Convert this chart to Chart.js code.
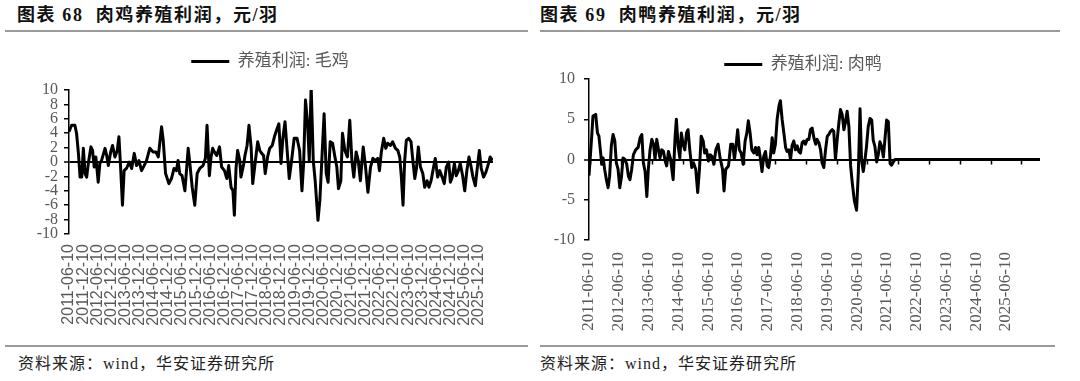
<!DOCTYPE html>
<html><head><meta charset="utf-8">
<script src="https://cdn.jsdelivr.net/npm/chart.js@4/dist/chart.umd.min.js"></script>
<style>
html,body{margin:0;padding:0;background:#fff;}
body{width:1080px;height:381px;position:relative;overflow:hidden;font-family:"Liberation Serif","Noto Sans CJK SC",serif;}
.title{position:absolute;top:5px;font-size:18px;font-weight:bold;color:#111;white-space:pre;letter-spacing:1.6px;line-height:20px;}
.rule{position:absolute;height:2px;background:#9a9a9a;}
.src{position:absolute;top:354px;font-size:16px;color:#222;white-space:pre;letter-spacing:1px;line-height:20px;}
canvas{position:absolute;top:40px;}
</style></head>
<body>
<div class="title" style="left:17px">图表 68  肉鸡养殖利润，元/羽</div>
<div class="title" style="left:540px">图表 69  肉鸭养殖利润，元/羽</div>
<div class="rule" style="left:5px;width:523px;top:30px"></div>
<div class="rule" style="left:540px;width:520px;top:30px"></div>
<div class="rule" style="left:5px;width:523px;top:345px"></div>
<div class="rule" style="left:540px;width:515px;top:345px"></div>
<div class="src" style="left:18px">资料来源：wind，华安证券研究所</div>
<div class="src" style="left:540px">资料来源：wind，华安证券研究所</div>
<canvas id="c1" width="540" height="300" style="left:0px"></canvas>
<canvas id="c2" width="540" height="300" style="left:540px"></canvas>
<script>
// ---- Chart 68: broiler chicken (毛鸡) profit, months since 2011-06-10 ----
const seriesNameL = '养殖利润: 毛鸡';
const monthsL = [0,1.1,2.5,3.2,4.0,4.7,5.4,6.1,6.8,7.5,8.2,9.3,10.0,10.7,11.4,12.4,13.1,13.8,15.3,16.0,16.7,17.7,18.5,19.5,20.5,21.2,21.9,22.7,23.4,24.4,25.6,26.6,27.7,28.7,29.7,30.8,31.9,32.9,34.3,35.7,36.9,37.9,39.3,40.0,41.0,42.4,43.5,44.6,45.6,46.3,47.0,48.0,49.2,50.6,51.3,52.3,53.4,54.4,55.5,56.9,57.9,58.6,59.6,60.3,61.0,61.7,62.7,63.9,64.8,66.0,67.0,67.8,68.8,69.6,70.2,70.9,71.6,72.5,73.0,74.2,74.7,75.6,76.4,77.3,78.0,79.0,80.1,81.0,81.8,82.6,83.3,84.3,85.2,86.3,87.2,88.1,89.1,90.0,90.8,91.7,92.5,93.5,94.5,95.6,96.8,97.9,98.9,99.6,100.4,101.3,102.0,102.8,103.7,104.5,105.7,106.5,107.5,108.3,109.2,110.0,110.9,111.9,112.9,113.7,114.4,115.4,116.1,117.1,118.2,119.2,120.1,120.9,121.9,122.8,123.7,124.9,125.9,126.9,128.0,129.0,130.1,131.1,131.8,132.6,133.6,134.5,135.3,136.5,137.4,138.6,139.6,140.4,141.1,141.8,142.5,143.2,144.2,145.2,146.1,146.8,147.5,148.3,149.2,150.2,151.0,152.0,152.8,153.7,154.5,155.5,156.5,157.4,158.4,159.3,160.2,161.2,161.9,162.7,163.6,164.4,165.3,166.1,167.1,168.0,168.9,169.8,170.6,171.5,172.5,173.2,174.2,175.0,176.0,177.0,178.1,178.8,179.8];
const valuesL = [4.2,5.1,5.1,4.0,1.2,-2.1,-2.1,1.9,-1.6,-2.1,-0.2,2.1,1.6,-0.7,0.7,-2.8,-0.2,0.2,1.9,0.9,-0.5,1.4,2.3,0.7,1.6,3.5,-0.7,-6.0,-1.2,-0.9,0,-0.9,1.2,-0.5,0.2,-1.2,-0.5,0.2,1.9,1.4,1.4,0.7,4.9,3.0,-1.6,-3.0,-2.3,-0.9,-1.2,0.2,-1.6,-1.9,-4.0,1.9,-0.2,-3.5,-6.0,-1.6,-0.9,-0.5,0.5,5.1,-1.9,0.7,1.9,1.4,0.9,2.1,-0.7,-1.2,-2.3,-0.5,-3.5,-4.0,-7.4,-0.9,1.6,0.2,-2.1,-0.2,0.9,2.3,5.1,2.1,-3.0,-0.2,2.8,1.6,1.2,0.9,-1.6,0.7,1.9,2.3,3.5,4.4,5.3,-0.2,3.3,5.6,2.1,-2.3,0.2,3.3,3.3,1.6,-4.0,-0.2,8.6,5.3,0.2,10.5,0.2,-2.6,-8.1,-5.3,1.4,6.7,-1.6,-2.8,2.8,2.6,0.7,-0.7,-3.7,-2.6,4.0,1.6,0.7,5.8,0.2,-2.1,1.4,0.2,-2.6,2.1,-0.7,-4.2,-0.7,0.5,0.2,0.5,-1.2,1.4,3.3,1.9,2.6,2.3,2.8,1.9,1.6,0.7,-2.1,-6.0,0.2,3.0,3.3,2.8,-0.2,-2.3,-0.9,2.1,-0.7,-1.6,-3.5,-2.6,-3.5,-2.6,-1.2,0.5,-2.1,-1.2,-2.1,-3.0,-0.7,0,-2.8,-2.1,-0.2,-1.9,-1.2,-0.2,-1.9,-4.0,-1.2,0.7,-0.5,-2.1,-3.3,-1.2,1.6,-0.9,-2.1,-1.4,-0.2,0.7,0.2];
const tickMonthsL = [0,6,12,18,24,30,36,42,48,54,60,66,72,78,84,90,96,102,108,114,120,126,132,138,144,150,156,162,168,174];
const tickLabelsL = ['2011-06-10','2011-12-10','2012-06-10','2012-12-10','2013-06-10','2013-12-10','2014-06-10','2014-12-10','2015-06-10','2015-12-10','2016-06-10','2016-12-10','2017-06-10','2017-12-10','2018-06-10','2018-12-10','2019-06-10','2019-12-10','2020-06-10','2020-12-10','2021-06-10','2021-12-10','2022-06-10','2022-12-10','2023-06-10','2023-12-10','2024-06-10','2024-12-10','2025-06-10','2025-12-10'];

// ---- Chart 69: meat duck (肉鸭) profit ----
const seriesNameR = '养殖利润: 肉鸭';
const monthsR = [0,1.1,1.6,2.7,3.4,4.0,4.7,5.1,5.7,6.3,7.0,7.7,8.3,9.0,9.7,10.4,11.0,11.7,12.4,13.1,13.7,14.5,15.2,15.9,16.5,17.2,17.9,18.8,19.8,20.6,21.3,21.9,22.6,23.3,23.9,24.6,25.3,26.0,26.6,27.3,28.0,28.6,29.3,30.0,30.7,31.3,32.0,32.9,33.9,34.7,35.2,35.9,36.6,37.2,37.9,38.6,39.3,39.9,40.6,41.4,42.1,43.0,43.8,44.5,45.2,46.0,46.6,47.3,48.1,48.8,49.5,50.3,51.1,52.0,52.8,53.8,54.4,55.1,56.2,57.1,57.9,58.6,59.3,59.9,60.6,61.3,62.1,62.9,63.6,64.2,64.9,65.6,66.4,67.1,67.7,68.4,69.1,69.7,70.4,71.1,71.8,72.4,73.1,73.8,74.4,75.1,75.8,76.5,77.1,77.8,78.5,79.2,79.8,80.5,81.2,81.8,82.5,83.2,83.9,84.5,85.2,85.9,86.5,87.2,87.9,88.6,89.2,89.9,90.6,91.3,91.9,92.6,93.3,93.9,94.6,95.3,96.0,96.6,97.3,98.0,98.6,99.3,100.0,100.7,101.3,102.0,102.7,103.3,104.0,104.7,105.4,106.1,106.9,107.8,108.5,109.2,109.8,110.5,111.2,111.8,112.5,113.2,113.9,114.5,115.2,115.9,116.6,117.2,117.9,118.6,119.2,119.9,120.6,121.3,121.9,122.6,123.3,128,140,152,164,176,181.7];
const valuesR = [-2.0,2.9,5.4,5.6,3.3,2.9,0.8,-0.6,0.2,-1.2,-2.5,-3.5,-2.1,1.7,3.1,2.3,-0.4,-1.2,-3.5,-2.1,0.2,0,-0.6,-2.1,-2.5,-1.2,0.6,1.2,1.5,2.7,3.1,-0.4,-1.5,-4.6,-1.2,1.2,2.5,1.9,0,2.5,1.2,0.2,1.2,1.0,-0.2,-0.8,1.0,0,-2.5,2.9,5.0,1.7,0.2,3.3,1.9,1.2,3.3,3.7,1.2,-1.0,-0.4,-1.2,-4.1,-1.2,2.9,2.3,0.8,1.2,-0.2,0.6,0.4,-0.6,1.2,1.9,0.2,-1.2,-3.9,-1.2,-0.8,1.9,1.9,0,1.9,3.7,1.2,0.8,-0.6,2.3,3.3,4.8,3.3,1.2,0.8,1.5,0.6,1.5,0,-1.5,0.4,1.0,-0.8,-1.0,0.4,2.7,0.8,1.9,5.0,6.6,7.3,5.0,3.3,1.5,1.0,1.2,0,1.7,2.3,1.2,1.7,1.0,0.8,2.1,2.3,1.9,2.5,2.5,3.7,3.9,2.7,1.9,2.5,2.1,1.2,-0.4,-1.0,1.2,2.9,3.1,3.5,3.7,3.5,0,2.5,4.6,6.2,5.6,3.7,4.6,6.0,4.1,-0.8,-3.0,-5.1,-6.3,-1.7,6.3,-0.1,-1.5,0,1.6,4.1,5.1,4.9,2.4,1.6,-0.3,0.7,2.2,1.6,0.3,2.4,4.9,4.7,-0.5,-0.7,-0.3,0,0,0,0,0,0,0];
const tickMonthsR = [0,12,24,36,48,60,72,84,96,108,120,132,144,156,168];
const tickLabelsR = ['2011-06-10','2012-06-10','2013-06-10','2014-06-10','2015-06-10','2016-06-10','2017-06-10','2018-06-10','2019-06-10','2020-06-10','2021-06-10','2022-06-10','2023-06-10','2024-06-10','2025-06-10'];
const zeroMarksR = [0.6,13,25.4,37.8,50.2,62.6,75,87.4,99.8,112.2,124.6,137,149.4,161.8,174.2];

const GREY = '#595959';
const SERIF = '"Liberation Serif","Noto Sans CJK SC",serif';

function legendFix(h, right){
  return {id:'legendFix',
    beforeInit(chart){
      const lg = chart.legend; const f = lg.fit;
      lg.fit = function(){ f.call(this); this.height = h; };
    },
    afterLayout(chart){ chart.legend.left = 0; chart.legend.right = right; }
  };
}
function zeroMarks(marks){
  return {id:'zeroMarks', afterDatasetsDraw(chart){
    if(!marks) return;
    const xs = chart.scales.x, ys = chart.scales.y, c = chart.ctx;
    const y0 = ys.getPixelForValue(0);
    c.save(); c.strokeStyle='#000'; c.lineWidth=1.5; c.beginPath();
    marks.forEach(m=>{ const x = Math.round(xs.getPixelForValue(m))+0.5; c.moveTo(x,y0); c.lineTo(x,y0+5); });
    c.stroke(); c.restore();
  }};
}

function makeChart(id, cfg){
  const pts = cfg.months.map((m,i)=>({x:m, y:cfg.values[i]}));
  return new Chart(document.getElementById(id), {
    type:'line',
    data:{datasets:[{label:cfg.name, data:pts, borderColor:'#000', backgroundColor:'#000', borderWidth:3, pointRadius:0, tension:0, borderJoinStyle:'round'}]},
    options:{
      responsive:false, animation:false, devicePixelRatio:1,
      layout:{padding:{left:0,right:cfg.padRight,top:0,bottom:0}},
      plugins:{
        tooltip:{enabled:false},
        legend:{display:true, position:'top',
          labels:{boxWidth:38, boxHeight:3, padding:cfg.legPad, color:GREY, font:{family:SERIF, size:17},
            generateLabels(chart){ const it = Chart.defaults.plugins.legend.labels.generateLabels(chart); it.forEach(i=>{i.lineWidth=0;i.fillStyle='#000';i.strokeStyle='#000';}); return it; }}}
      },
      scales:{
        x:{type:'linear', min:0, max:cfg.xmax,
          grid:{display:false, drawTicks:false}, border:{display:false},
          afterBuildTicks(s){ s.ticks = cfg.tickMonths.map(v=>({value:v})); },
          afterFit(s){ s.height = cfg.xH; },
          ticks:{autoSkip:false, maxRotation:90, minRotation:90, padding:cfg.xPad, color:GREY,
            font:{family:cfg.xFont, size:cfg.xSize},
            callback(v){ const k = cfg.tickMonths.indexOf(v); return k>=0 ? cfg.tickLabels[k] : ''; }}},
        y:{min:-10, max:10,
          afterFit(s){ s.width = cfg.yW; },
          border:{display:true, color:'#000', width:1.5},
          grid:{drawOnChartArea:true, tickLength:5, tickColor:'#000', tickWidth:1.5,
            color:(c)=> (c.tick && c.tick.value===0) ? '#000' : 'rgba(0,0,0,0)',
            lineWidth:(c)=> (c.tick && c.tick.value===0) ? 2 : 1.5},
          ticks:{stepSize:cfg.yStep, autoSkip:false, padding:cfg.yPad, color:GREY, font:{family:SERIF, size:16}}}
      }
    },
    plugins:[legendFix(cfg.legH, cfg.legRight), zeroMarks(cfg.zeroMarks)]
  });
}

makeChart('c1', {name:seriesNameL, months:monthsL, values:valuesL, tickMonths:tickMonthsL, tickLabels:tickLabelsL,
  xmax:180, padRight:47, legPad:13, legH:50, legRight:540, xH:106, xPad:10, xFont:'"Liberation Sans",Arial,sans-serif', xSize:16,
  yW:69, yStep:2, yPad:6, zeroMarks:null});
makeChart('c2', {name:seriesNameR, months:monthsR, values:valuesR, tickMonths:tickMonthsR, tickLabels:tickLabelsR,
  xmax:181.7, padRight:40, legPad:16, legH:39, legRight:526, xH:100, xPad:12, xFont:SERIF, xSize:17,
  yW:49, yStep:5, yPad:9, zeroMarks:zeroMarksR});
</script>
</body></html>
